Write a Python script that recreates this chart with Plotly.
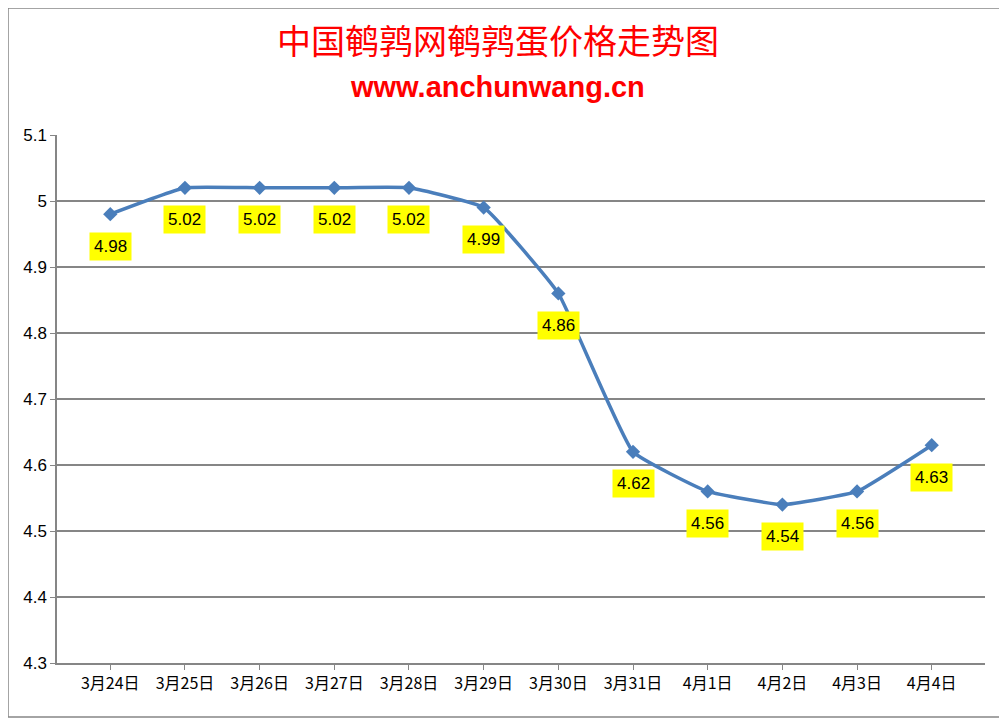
import plotly.graph_objects as go

dates = ["3月24日","3月25日","3月26日","3月27日","3月28日","3月29日","3月30日","3月31日","4月1日","4月2日","4月3日","4月4日"]
prices = [4.98,5.02,5.02,5.02,5.02,4.99,4.86,4.62,4.56,4.54,4.56,4.63]
label_text = ["4.98","5.02","5.02","5.02","5.02","4.99","4.86","4.62","4.56","4.54","4.56","4.63"]

fig = go.Figure(go.Scatter(x=dates, y=prices, mode="lines+markers",
    line=dict(color="#4a7ebb", width=3.5, shape="spline", smoothing=0.35),
    marker=dict(symbol="diamond", size=11, color="#4a7ebb")))

for d, p, t in zip(dates, prices, label_text):
    fig.add_annotation(x=d, y=p, text=t, showarrow=False, yshift=-32,
        bgcolor="#ffff00", font=dict(size=17, color="black", family="Liberation Sans"),
        borderpad=4)

fig.add_shape(type="rect", xref="paper", yref="paper", x0=-0.0528, x1=1.0216, y0=-0.1023, y1=1.2405,
    line=dict(color="#868686", width=1.5))

fig.add_annotation(xref="paper", yref="paper", x=0.475, y=1.18, yanchor="middle", text="中国鹌鹑网鹌鹑蛋价格走势图",
    showarrow=False, font=dict(size=34, color="#ff0000", family="Noto Sans CJK SC"))
fig.add_annotation(xref="paper", yref="paper", x=0.475, y=1.091, yanchor="middle", text="<b>www.anchunwang.cn</b>",
    showarrow=False, font=dict(size=29, color="#ff0000", family="Liberation Sans"))

fig.update_layout(width=1007, height=719, margin=dict(l=49, r=30, t=127, b=64),
    paper_bgcolor="white", plot_bgcolor="white", showlegend=False,
    font=dict(family="Liberation Sans", size=16, color="black"))
fig.update_xaxes(showgrid=False, showline=True, linecolor="#868686", linewidth=1.5,
    tickfont=dict(size=16, family="Noto Sans CJK SC"), ticks="outside", ticklen=5, tickcolor="#868686")
fig.update_yaxes(range=[4.3, 5.1], dtick=0.1, tickformat="~g", showgrid=True, gridcolor="#868686",
    gridwidth=1.5, showline=True, linecolor="#868686", linewidth=1.5, ticks="outside", ticklen=5,
    tickcolor="#868686", zeroline=False, tickfont=dict(size=17))
fig.write_html("out.html")
